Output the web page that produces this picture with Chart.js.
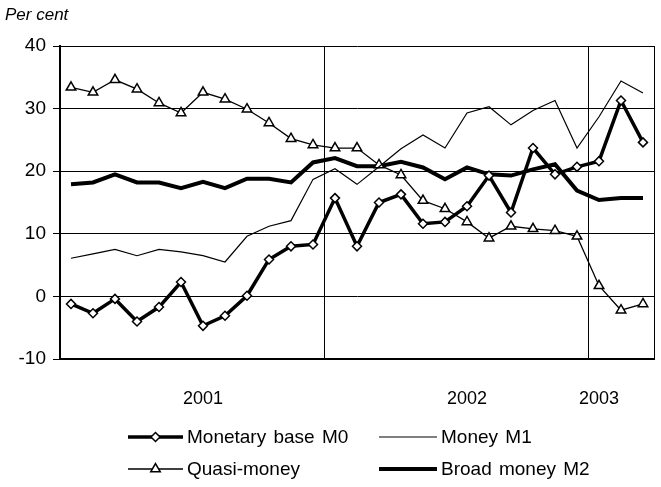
<!DOCTYPE html>
<html>
<head>
<meta charset="utf-8">
<script src="https://cdn.jsdelivr.net/npm/chart.js@4/dist/chart.umd.min.js"></script>
<style>
body { margin: 0; background: #fff; font-family: "Liberation Sans", Arial, sans-serif; }
#wrap { position: relative; width: 661px; height: 487px; }
#unit { position: absolute; left: 5px; top: 5px; font-style: italic; font-size: 17px; color: #000; }
.item { position: absolute; display: flex; align-items: center; font-size: 19px; word-spacing: 2px; color: #000; white-space: nowrap; }
.item svg { margin-right: 4px; }
</style>
</head>
<body>
<div id="wrap">
  <canvas id="c" width="661" height="487"></canvas>
  <div id="unit">Per cent</div>
  <div id="legend"></div>
</div>
<script>
// months Jan 2001 .. Mar 2003
const months = [
  "Jan 01","Feb 01","Mar 01","Apr 01","May 01","Jun 01","Jul 01","Aug 01","Sep 01","Oct 01","Nov 01","Dec 01",
  "Jan 02","Feb 02","Mar 02","Apr 02","May 02","Jun 02","Jul 02","Aug 02","Sep 02","Oct 02","Nov 02","Dec 02",
  "Jan 03","Feb 03","Mar 03"
];
// where the year labels sit, and where the year boundaries are
const yearLabels = { 6: "2001", 18: "2002", 24: "2003" };
const yearStarts = [12, 24];

const monetaryBase = [-1.2, -2.7, -0.4, -4.0, -1.7, 2.3, -4.7, -3.1, 0.1, 5.9, 8.0, 8.3,
  15.7, 8.0, 15.0, 16.3, 11.6, 11.9, 14.4, 19.3, 13.4, 23.7, 19.5, 20.7, 21.6, 31.3, 24.6];
const moneyM1 = [6.1, 6.8, 7.5, 6.5, 7.5, 7.1, 6.5, 5.5, 9.6, 11.2, 12.1, 18.7,
  20.4, 17.9, 20.7, 23.6, 25.8, 23.7, 29.3, 30.3, 27.4, 29.7, 31.3, 23.7, 28.7, 34.4, 32.5];
const quasiMoney = [33.4, 32.6, 34.6, 33.1, 30.9, 29.3, 32.6, 31.5, 29.9, 27.7, 25.2, 24.2,
  23.7, 23.7, 21.0, 19.4, 15.3, 14.0, 11.9, 9.3, 11.2, 10.8, 10.5, 9.6, 1.7, -2.2, -1.2];
const broadM2 = [17.9, 18.2, 19.5, 18.2, 18.2, 17.3, 18.3, 17.3, 18.8, 18.8, 18.2, 21.4,
  22.1, 20.8, 20.8, 21.5, 20.6, 18.7, 20.6, 19.5, 19.3, 20.3, 21.1, 16.9, 15.4, 15.7, 15.7];

const font = "'Liberation Sans', Arial, sans-serif";

const chart = new Chart(document.getElementById("c"), {
  type: "line",
  data: {
    labels: months,
    datasets: [
      { label: "Monetary base M0", data: monetaryBase, borderColor: "#000", borderWidth: 3.5,
        pointStyle: "rectRot", pointRadius: 4.5, pointBackgroundColor: "#fff",
        pointBorderColor: "#000", pointBorderWidth: 1.5 },
      { label: "Money M1", data: moneyM1, borderColor: "#000", borderWidth: 1.2, pointRadius: 0 },
      { label: "Quasi-money", data: quasiMoney, borderColor: "#000", borderWidth: 1.3,
        pointStyle: "triangle", pointRadius: 5.5, pointBackgroundColor: "#fff",
        pointBorderColor: "#000", pointBorderWidth: 1.5 },
      { label: "Broad money M2", data: broadM2, borderColor: "#000", borderWidth: 4, pointRadius: 0 }
    ]
  },
  options: {
    responsive: false,
    animation: false,
    layout: { padding: { left: 0, top: 46, right: 5, bottom: 68 } },
    plugins: { legend: { display: false }, tooltip: { enabled: false } },
    elements: { line: { tension: 0 } },
    scales: {
      x: {
        offset: true,
        afterFit: s => { s.height = 60; },
        border: { color: "#000", width: 2 },
        grid: {
          offset: true,
          tickLength: 29,
          tickColor: "rgba(0,0,0,0)",
          color: c => (c.index === undefined || yearStarts.includes(c.index)) ? "#000" : "rgba(0,0,0,0)"
        },
        ticks: {
          autoSkip: false, maxRotation: 0, padding: 0, color: "#000",
          font: { family: font, size: 18 },
          callback: (v, i) => yearLabels[i] || ""
        }
      },
      y: {
        min: -10, max: 40,
        afterFit: s => { s.width = 60; },
        border: { color: "#000", width: 2 },
        grid: { color: "#000", lineWidth: 1, tickLength: 7 },
        ticks: { stepSize: 10, padding: 7, color: "#000", font: { family: font, size: 19 } }
      }
    }
  }
});

// legend built from the datasets
const legendPos = [
  { left: 128, top: 437, w: 55 },
  { left: 379, top: 437, w: 58 },
  { left: 128, top: 469, w: 55 },
  { left: 379, top: 469, w: 58 }
];
const legend = document.getElementById("legend");
chart.data.datasets.forEach((ds, i) => {
  const p = legendPos[i];
  const w = p.w, h = 14, cy = h / 2, cx = w / 2;
  let marker = "";
  if (ds.pointStyle === "rectRot") {
    const r = ds.pointRadius;
    marker = `<polygon points="${cx},${cy - r} ${cx + r},${cy} ${cx},${cy + r} ${cx - r},${cy}" fill="#fff" stroke="#000" stroke-width="${ds.pointBorderWidth}"/>`;
  } else if (ds.pointStyle === "triangle") {
    const r = ds.pointRadius;
    const s = r * Math.sin(Math.PI / 3);
    marker = `<polygon points="${cx},${cy - r} ${cx + s},${cy + r / 2} ${cx - s},${cy + r / 2}" fill="#fff" stroke="#000" stroke-width="${ds.pointBorderWidth}"/>`;
  }
  const el = document.createElement("div");
  el.className = "item";
  el.style.left = p.left + "px";
  el.style.top = (p.top - 11) + "px";
  el.innerHTML = `<svg width="${w}" height="${h}"><line x1="0" y1="${cy}" x2="${w}" y2="${cy}" stroke="#000" stroke-width="${ds.borderWidth}"/>${marker}</svg><span>${ds.label}</span>`;
  legend.appendChild(el);
});
</script>
</body>
</html>
